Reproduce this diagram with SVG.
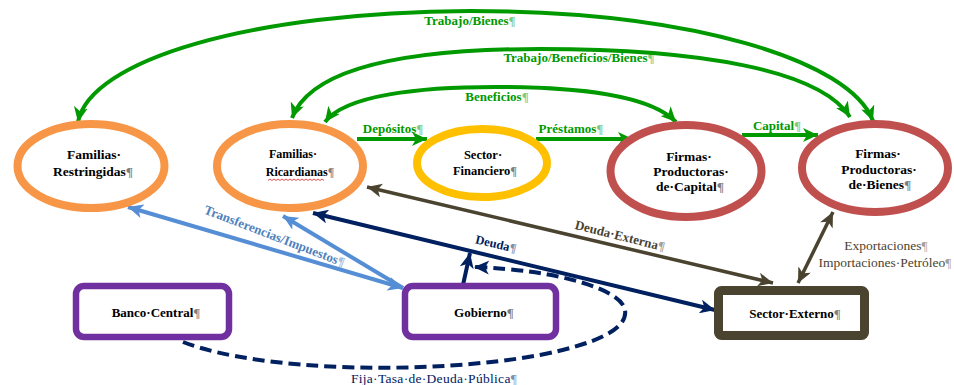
<svg xmlns="http://www.w3.org/2000/svg" width="954" height="385" viewBox="0 0 954 385">
<style>
text{font-family:"Liberation Serif","Times New Roman",serif;font-weight:bold;text-anchor:middle;fill:#000}
.pm{opacity:0.5}
.ell{fill:#fff;stroke-width:8}
.g{fill:none;stroke:#009900;stroke-width:4}
.gl{fill:#009900;font-size:13px}
.bl{fill:none;stroke:#558ED5;stroke-width:4}
.nv{fill:none;stroke:#002060;stroke-width:4}
.ol{fill:none;stroke:#4A4330;stroke-width:3.5}
.box{fill:#fff;stroke:#7030A0;stroke-width:6.5}
</style>
<defs>
<marker id="ag" markerUnits="userSpaceOnUse" markerWidth="16" markerHeight="14" refX="15" refY="7" orient="auto-start-reverse"><path d="M0,0 L15,7 L0,14 L4,7 Z" fill="#009900"/></marker>
<marker id="ab" markerUnits="userSpaceOnUse" markerWidth="16" markerHeight="14" refX="15" refY="7" orient="auto-start-reverse"><path d="M0,0 L15,7 L0,14 L4,7 Z" fill="#558ED5"/></marker>
<marker id="an" markerUnits="userSpaceOnUse" markerWidth="16" markerHeight="14" refX="15" refY="7" orient="auto-start-reverse"><path d="M0,0 L15,7 L0,14 L4,7 Z" fill="#002060"/></marker>
<marker id="ao" markerUnits="userSpaceOnUse" markerWidth="16" markerHeight="14" refX="15" refY="7" orient="auto-start-reverse"><path d="M0,0 L15,7 L0,14 L4,7 Z" fill="#4A4330"/></marker>
</defs>
<rect width="954" height="385" fill="#fff"/>

<g id="connectors">
<path class="g" d="M78,122 C90,60 250,12 470,11 C690,11 850,60 873,121" marker-start="url(#ag)" marker-end="url(#ag)"/>
<path class="g" d="M292,118 C310,70 400,49 540,49 C700,49 820,70 850,117" marker-start="url(#ag)" marker-end="url(#ag)"/>
<path class="g" d="M325,122 C345,95 420,87 495,87 C580,87 650,95 676,122" marker-start="url(#ag)" marker-end="url(#ag)"/>
<path class="g" stroke-width="3.5" d="M357,139 L427,139" marker-end="url(#ag)"/>
<path class="g" stroke-width="3.5" d="M536,139 L633,139" marker-end="url(#ag)"/>
<path class="g" stroke-width="3.5" d="M742,135 L818,135" marker-end="url(#ag)"/>
<text class="gl" x="470" y="25">Trabajo/Bienes<tspan class="pm">¶</tspan></text>
<text class="gl" x="579" y="62">Trabajo/Beneficios/Bienes<tspan class="pm">¶</tspan></text>
<text class="gl" x="497" y="101">Beneficios<tspan class="pm">¶</tspan></text>
<text class="gl" x="393" y="133">Depósitos<tspan class="pm">¶</tspan></text>
<text class="gl" x="571" y="133">Préstamos<tspan class="pm">¶</tspan></text>
<text class="gl" x="777" y="130">Capital<tspan class="pm">¶</tspan></text>

<path class="bl" d="M128,207 L403,288" marker-start="url(#ab)" marker-end="url(#ab)"/>
<path class="bl" d="M403,288 L283,216" marker-end="url(#ab)"/>
<text transform="translate(273,240) rotate(21)" style="fill:#4F81BD;font-size:13px">Transferencias/Impuestos<tspan class="pm">¶</tspan></text>

<path class="nv" d="M313,213 L715,310" marker-start="url(#an)" marker-end="url(#an)"/>
<path class="nv" d="M463,285 L470,253" marker-end="url(#an)"/>
<text transform="translate(495,248) rotate(13)" style="fill:#002060;font-size:12.5px">Deuda<tspan class="pm">¶</tspan></text>
<path class="nv" stroke-width="4.5" stroke-dasharray="12,6" d="M183,342 C260,372 430,375 540,355 C600,343 628,328 625,310 C622,290 560,270 474,267" marker-end="url(#an)"/>
<text x="434" y="383" style="fill:#002060;font-weight:normal;font-size:13.5px;letter-spacing:0.3px">Fija·Tasa·de·Deuda·Pública<tspan class="pm">¶</tspan></text>

<path class="ol" d="M367,187 L773,283" marker-start="url(#ao)" marker-end="url(#ao)"/>
<text transform="translate(619,240) rotate(14)" style="fill:#4A4330;font-size:13px">Deuda·Externa<tspan class="pm">¶</tspan></text>
<path class="ol" d="M798,283 L833,212" marker-start="url(#ao)" marker-end="url(#ao)"/>
<text x="886" y="250" style="fill:#4A4330;font-weight:normal;font-size:13.5px">Exportaciones<tspan class="pm">¶</tspan></text>
<text x="885" y="267" style="fill:#4A4330;font-weight:normal;font-size:13.5px">Importaciones·Petróleo<tspan class="pm">¶</tspan></text>
</g>

<g id="familias-restringidas">
<ellipse class="ell" cx="91" cy="166" rx="73.5" ry="42" stroke="#F79646"/>
<text x="94" y="159" font-size="13.5">Familias·</text>
<text x="93" y="176" font-size="13.5">Restringidas<tspan class="pm">¶</tspan></text>
</g>
<g id="familias-ricardianas">
<ellipse class="ell" cx="290" cy="166" rx="73" ry="42" stroke="#F79646"/>
<text x="293" y="158" font-size="12">Familias·</text>
<text x="300" y="176" font-size="12">Ricardianas<tspan class="pm">¶</tspan></text>
<polyline fill="none" stroke="#e02020" stroke-width="0.8" points="268,180.5 270,179 272,180.5 274,179 276,180.5 278,179 280,180.5 282,179 284,180.5 286,179 288,180.5 290,179 292,180.5 294,179 296,180.5 298,179 300,180.5 302,179 304,180.5 306,179 308,180.5 310,179 312,180.5 314,179 316,180.5 318,179 320,180.5 322,179 324,180.5"/>
</g>
<g id="sector-financiero">
<ellipse class="ell" cx="482" cy="163" rx="65" ry="34" stroke="#FFC000" stroke-width="7"/>
<text x="483" y="159" font-size="12.5">Sector·</text>
<text x="485" y="175" font-size="12.5">Financiero<tspan class="pm">¶</tspan></text>
</g>
<g id="firmas-capital">
<ellipse class="ell" cx="686" cy="171" rx="75.5" ry="46" stroke="#C0504D"/>
<text x="689" y="161" font-size="13.5">Firmas·</text>
<text x="691" y="176" font-size="13.5">Productoras·</text>
<text x="690" y="191" font-size="13.5">de·Capital<tspan class="pm">¶</tspan></text>
</g>
<g id="firmas-bienes">
<ellipse class="ell" cx="875" cy="168" rx="73" ry="44" stroke="#C0504D"/>
<text x="878" y="158" font-size="13.5">Firmas·</text>
<text x="879" y="174" font-size="13.5">Productoras·</text>
<text x="880" y="189" font-size="13.5">de·Bienes<tspan class="pm">¶</tspan></text>
</g>
<g id="banco-central">
<rect class="box" x="76" y="286" width="153" height="51" rx="8"/>
<text x="156" y="317" font-size="13">Banco·Central<tspan class="pm">¶</tspan></text>
</g>
<g id="gobierno">
<rect class="box" x="405" y="286" width="151" height="51" rx="8"/>
<text x="484" y="317" font-size="13">Gobierno<tspan class="pm">¶</tspan></text>
</g>
<g id="sector-externo">
<rect x="718.5" y="290.5" width="146" height="45" rx="3" fill="#fff" stroke="#4A4330" stroke-width="9"/>
<text x="795" y="318" font-size="13">Sector·Externo<tspan class="pm">¶</tspan></text>
</g>
</svg>
